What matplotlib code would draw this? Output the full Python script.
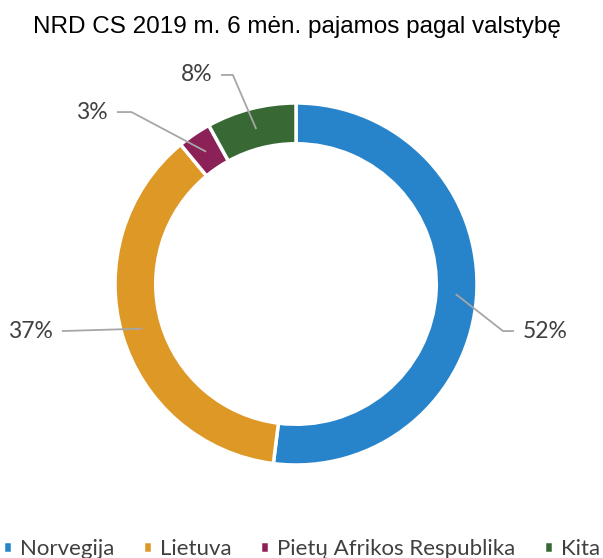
import matplotlib
matplotlib.use("Agg")
import numpy as np
import matplotlib.pyplot as plt

# Duomenys
categories = ["Norvegija", "Lietuva", "Pietų Afrikos Respublika", "Kita"]
shares = [52, 37, 3, 8]
colors = ["#2784cb", "#dd9826", "#8c2158", "#386935"]

TITLE = "NRD CS 2019 m. 6 mėn. pajamos pagal valstybę"
TEXT_COLOR = "#404040"
LINE_COLOR = "#a6a6a6"

# label layout: tip of leader line (axes data units, radius = 1) and side
label_tips = [(1.204, -0.260), (-1.293, -0.260), (-0.989, 0.950), (-0.414, 1.155)]
elbow_len = [0.06, 0.0, 0.08, 0.065]

W, H = 603, 558
cx, cy, R = 296, 284, 181

fig = plt.figure(figsize=(W / 100, H / 100), dpi=100)
fig.patch.set_facecolor("white")
ax = fig.add_axes([(cx - R) / W, (H - cy - R) / H, 2 * R / W, 2 * R / H])

wedges, _ = ax.pie(
    shares,
    colors=colors,
    startangle=90,
    counterclock=False,
    radius=1.0,
    wedgeprops=dict(width=0.225, edgecolor="white", linewidth=2.5),
)
ax.set_xlim(-1, 1)
ax.set_ylim(-1, 1)
ax.set_aspect("equal")
ax.axis("off")

anchor_r = 0.884
for w, val, tip, el in zip(wedges, shares, label_tips, elbow_len):
    mid = np.deg2rad((w.theta1 + w.theta2) / 2)
    ax_x, ax_y = anchor_r * np.cos(mid), anchor_r * np.sin(mid)
    tx, ty = tip
    side = 1 if tx > 0 else -1
    ex = tx - side * el
    ax.plot([ax_x, ex, tx], [ax_y, ty, ty], color=LINE_COLOR, lw=1.3,
            clip_on=False, solid_capstyle="butt")
    ax.text(tx + side * 0.05, ty, f"{val}%", ha="left" if side > 0 else "right",
            va="center", fontsize=16.5, color=TEXT_COLOR, family="Lato")

fig.text(cx / W + 0.002, 1 - 27 / H, TITLE, ha="center", va="center",
         fontsize=17.5, color="black", family="Liberation Sans")

leg = fig.legend(
    wedges, categories, loc="center", bbox_to_anchor=(0.5, 9 / H), ncol=4,
    frameon=False, handlelength=0.4, handleheight=0.4,
    handletextpad=0.35, columnspacing=1.3, borderpad=0.0,
    prop=dict(family="Lato", size=16),
)
for t in leg.get_texts():
    t.set_color(TEXT_COLOR)

fig.savefig("out.png", dpi=100, facecolor="white")
